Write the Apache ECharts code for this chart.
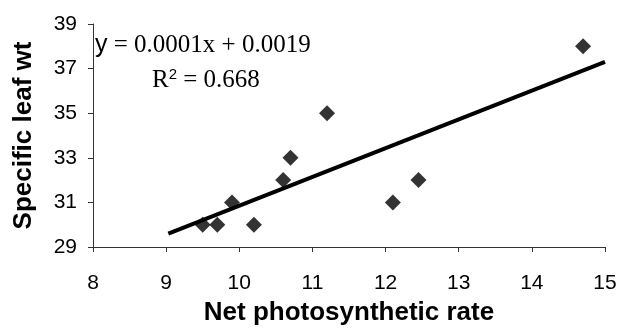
<!DOCTYPE html>
<html>
<head>
<meta charset="utf-8">
<script src="https://cdn.jsdelivr.net/npm/echarts@6/dist/echarts.min.js"></script>
<style>
  html, body { margin: 0; padding: 0; background: #fff; }
  #chart { width: 620px; height: 328px; }
</style>
</head>
<body>
<div id="chart"></div>
<script>
// puntos
const rateX = [9.5, 9.7, 9.9, 10.2, 10.6, 10.7, 11.2, 12.1, 12.45, 14.7]
const leafWt = [30, 30, 31, 30, 32, 33, 35, 31, 32, 38]
// extremos de la linea de tendencia
const trendX = [9.03, 15]
const trendY = [29.6, 37.3]

const chart = echarts.init(document.getElementById('chart'))

const option = {
  animation: false,
  grid: { left: 93, right: 15, top: 24, bottom: 81, outerBoundsMode: 'none', containLabel: false },
  xAxis: {
    type: 'value',
    min: 8, max: 15, interval: 1,
    name: 'Net photosynthetic rate',
    nameLocation: 'middle',
    nameGap: 53,
    nameTextStyle: { fontFamily: 'Liberation Sans', fontWeight: 'bold', fontSize: 26, color: '#000' },
    axisLine: { lineStyle: { color: '#333', width: 1 } },
    axisTick: { show: true, length: 5, lineStyle: { color: '#333' } },
    axisLabel: { fontFamily: 'Liberation Sans', fontSize: 21, color: '#000', margin: 26 },
    splitLine: { show: false }
  },
  yAxis: {
    type: 'value',
    min: 29, max: 39, interval: 2,
    name: 'Specific leaf wt',
    nameLocation: 'middle',
    nameGap: 56,
    nameTextStyle: { fontFamily: 'Liberation Sans', fontWeight: 'bold', fontSize: 26, color: '#000' },
    axisLine: { show: true, lineStyle: { color: '#333', width: 1 } },
    axisTick: { show: true, length: 5, lineStyle: { color: '#333' } },
    axisLabel: { fontFamily: 'Liberation Sans', fontSize: 21, color: '#000', margin: 16 },
    splitLine: { show: false }
  },
  graphic: [
    {
      type: 'text', left: 95, top: 33,
      style: {
        text: '{s|y} = 0.0001x + 0.0019',
        font: '25px "Liberation Serif"',
        fill: '#000',
        rich: { s: { fontFamily: 'Liberation Sans', fontSize: 25 } }
      }
    },
    {
      type: 'text', left: 152, top: 67,
      style: {
        text: 'R{sup|2} = 0.668',
        font: '25px "Liberation Serif"',
        fill: '#000',
        rich: { sup: { fontSize: 15, verticalAlign: 'top', padding: [0, 0, 12, 0] } }
      }
    }
  ],
  series: [
    {
      type: 'line',
      data: trendX.map((x, i) => [x, trendY[i]]),
      symbol: 'none',
      lineStyle: { color: '#000', width: 4 },
      z: 1
    },
    {
      type: 'scatter',
      data: rateX.map((x, i) => [x, leafWt[i]]),
      symbol: 'diamond',
      symbolSize: [16, 16],
      itemStyle: { color: '#000' },
      z: 2
    }
  ]
}

chart.setOption(option)
</script>
</body>
</html>
